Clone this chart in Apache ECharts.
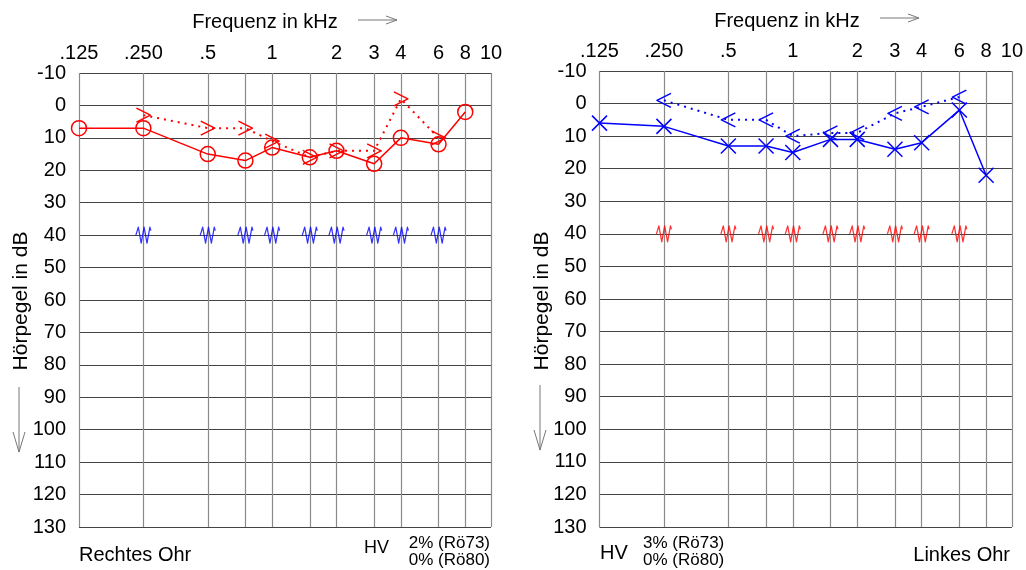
<!DOCTYPE html>
<html>
<head>
<meta charset="utf-8">
<script src="https://cdn.jsdelivr.net/npm/echarts@6/dist/echarts.min.js"></script>
<style>
  html, body { margin: 0; padding: 0; background: #fff; }
  #chart { width: 1026px; height: 570px; }
</style>
</head>
<body>
<div id="chart"></div>
<script>
// Test frequencies in kHz (grid columns)
const freqs = [0.125, 0.25, 0.5, 0.75, 1, 1.5, 2, 3, 4, 6, 8];
// Labelled frequencies along the top edge
const freqLabels = [0.125, 0.25, 0.5, 1, 2, 3, 4, 6, 8, 10];
const freqLabelText = ['.125', '.250', '.5', '1', '2', '3', '4', '6', '8', '10'];
// Grid columns, including the unlabelled half-octave lines and the 10 kHz edge
const gridFreqs = [0.125, 0.25, 0.5, 0.75, 1, 1.5, 2, 3, 4, 6, 8, 10];

// Right ear (red): air conduction (circles) and bone conduction (>)
const rightAir  = [7, 7, 15, 17, 13, 16, 14, 18, 10, 12, 2];
const rightBone = [null, 3, 7, 7, 11, 16, 14, 14, -2, 10, null];
// Left ear (blue): air conduction (x) and bone conduction (<)
const leftAir   = [6, 7, 13, 13, 15, 11, 11, 14, 12, 2, 22];
const leftBone  = [null, -1, 5, 5, 10, 9, 9, 3, 1, -2, null];

// Masking level on the opposite ear (dB)
const maskFreqs = [0.25, 0.5, 0.75, 1, 1.5, 2, 3, 4, 6];
const maskLevel = [40, 40, 40, 40, 40, 40, 40, 40, 40];

// Hearing level axis
const dbMin = -10, dbMax = 130, dbStep = 10;

// Horizontal position in octaves above 125 Hz; the 10 kHz column closes the chart
const X_END = 6.4;
const octave = f => (f >= 10 ? X_END : Math.log2(f / 0.125));

const RED = '#ff0000';
const BLUE = '#0000ff';
const CLEAR = 'rgba(0,0,0,0)';
const FONT = '"Liberation Sans", Arial, Helvetica, sans-serif';

const SYM_GT = 'path://M0,0 L14,7 L0,14';
const SYM_LT = 'path://M14,0 L0,7 L14,14';
const SYM_X = 'path://M0,0 L14,14 M14,0 L0,14';
const SYM_MASK = 'path://M0,8 L2.5,1 L5.5,15 L8.5,1 L11.5,15 L14.5,1 L15.5,4';

function pairs(xs, ys) {
  const out = [];
  xs.forEach((f, i) => { if (ys[i] != null) out.push([octave(f), ys[i]]); });
  return out;
}

function labelFor(v) {
  let best = 0, bd = Infinity;
  freqLabels.forEach((f, i) => {
    const d = Math.abs(octave(f) - v);
    if (d < bd) { bd = d; best = i; }
  });
  return freqLabelText[best];
}

function xAxisFor(gi) {
  return {
    type: 'value', gridIndex: gi, position: 'top',
    min: 0, max: X_END,
    axisLine: { show: false },
    axisTick: { show: false, customValues: gridFreqs.map(octave) },
    axisLabel: {
      customValues: freqLabels.map(octave),
      formatter: labelFor,
      showMinLabel: true, showMaxLabel: true,
      fontSize: 20, color: '#000', fontFamily: FONT, margin: 10
    },
    splitLine: { show: true, lineStyle: { color: '#8a8a8a', width: 1.2 } }
  };
}

function yAxisFor(gi) {
  return {
    type: 'value', gridIndex: gi, inverse: true,
    min: dbMin, max: dbMax, interval: dbStep,
    axisLine: { show: false },
    axisTick: { show: false },
    axisLabel: {
      showMinLabel: true, showMaxLabel: true,
      fontSize: 20, color: '#000', fontFamily: FONT, margin: 13
    },
    splitLine: { show: true, lineStyle: { color: '#444', width: 1 } }
  };
}

function airSeries(gi, data, color, symbol) {
  return {
    type: 'line', xAxisIndex: gi, yAxisIndex: gi,
    data: pairs(freqs, data),
    symbol: symbol, symbolSize: 15,
    lineStyle: { color: color, width: 1.5 },
    itemStyle: { color: CLEAR, borderColor: color, borderWidth: 1.5 },
    z: 5
  };
}

function boneSeries(gi, data, color, symbol) {
  return {
    type: 'line', xAxisIndex: gi, yAxisIndex: gi,
    data: pairs(freqs, data),
    symbol: symbol, symbolSize: 14,
    lineStyle: { color: color, width: 2, type: [2, 5] },
    itemStyle: { color: CLEAR, borderColor: color, borderWidth: 1.5, borderJoin: 'round' },
    z: 4
  };
}

function maskSeries(gi, color) {
  return {
    type: 'scatter', xAxisIndex: gi, yAxisIndex: gi,
    data: pairs(maskFreqs, maskLevel),
    symbol: SYM_MASK, symbolSize: [15, 16], symbolKeepAspect: false,
    itemStyle: { color: CLEAR, borderColor: color, borderWidth: 1.3, borderJoin: 'round', borderMiterLimit: 1 },
    emphasis: { disabled: true },
    z: 4
  };
}

function txt(x, y, text, size, align, extra) {
  return Object.assign({
    type: 'text', x: x, y: y,
    style: { text: text, fontSize: size, fontFamily: FONT, fill: '#000',
             align: align || 'left', verticalAlign: 'middle' }
  }, extra || {});
}

function arrowRight(x1, x2, y) {
  return [
    { type: 'line', shape: { x1: x1, y1: y, x2: x2, y2: y }, style: { stroke: '#777', lineWidth: 1 } },
    { type: 'polyline', shape: { points: [[x2 - 11, y - 4], [x2, y], [x2 - 11, y + 4]] },
      style: { stroke: '#777', fill: 'none', lineWidth: 1 } }
  ];
}

function arrowDown(x, y1, y2) {
  return [
    { type: 'line', shape: { x1: x, y1: y1, x2: x, y2: y2 }, style: { stroke: '#777', lineWidth: 1 } },
    { type: 'polyline', shape: { points: [[x - 6, y2 - 20], [x, y2], [x + 6, y2 - 20]] },
      style: { stroke: '#777', fill: 'none', lineWidth: 1 } }
  ];
}

const chart = echarts.init(document.getElementById('chart'), null, { renderer: 'canvas' });

chart.setOption({
  animation: false,
  backgroundColor: '#fff',
  grid: [
    { left: 79, top: 73, width: 412, height: 454 },
    { left: 599.5, top: 71, width: 412.5, height: 456 }
  ],
  xAxis: [xAxisFor(0), xAxisFor(1)],
  yAxis: [yAxisFor(0), yAxisFor(1)],
  series: [
    maskSeries(0, BLUE),
    boneSeries(0, rightBone, RED, SYM_GT),
    airSeries(0, rightAir, RED, 'circle'),
    maskSeries(1, RED),
    boneSeries(1, leftBone, BLUE, SYM_LT),
    airSeries(1, leftAir, BLUE, SYM_X)
  ],
  graphic: [
    txt(265, 22, 'Frequenz in kHz', 20, 'center'),
    txt(787, 21, 'Frequenz in kHz', 20, 'center'),
    ...arrowRight(358, 397, 20),
    ...arrowRight(880, 919, 18),
    txt(21, 301, 'Hörpegel in dB', 21, 'center', { rotation: Math.PI / 2 }),
    txt(542, 301, 'Hörpegel in dB', 21, 'center', { rotation: Math.PI / 2 }),
    ...arrowDown(19, 387, 452),
    ...arrowDown(540, 385, 450),
    txt(79, 555, 'Rechtes Ohr', 20, 'left'),
    txt(364, 548, 'HV', 18, 'left'),
    txt(490, 543, '2% (Rö73)', 17, 'right'),
    txt(490, 560, '0% (Rö80)', 17, 'right'),
    txt(600, 553, 'HV', 20, 'left'),
    txt(643, 543, '3% (Rö73)', 17, 'left'),
    txt(643, 560, '0% (Rö80)', 17, 'left'),
    txt(1010, 555, 'Linkes Ohr', 20, 'right')
  ]
});
</script>
</body>
</html>
